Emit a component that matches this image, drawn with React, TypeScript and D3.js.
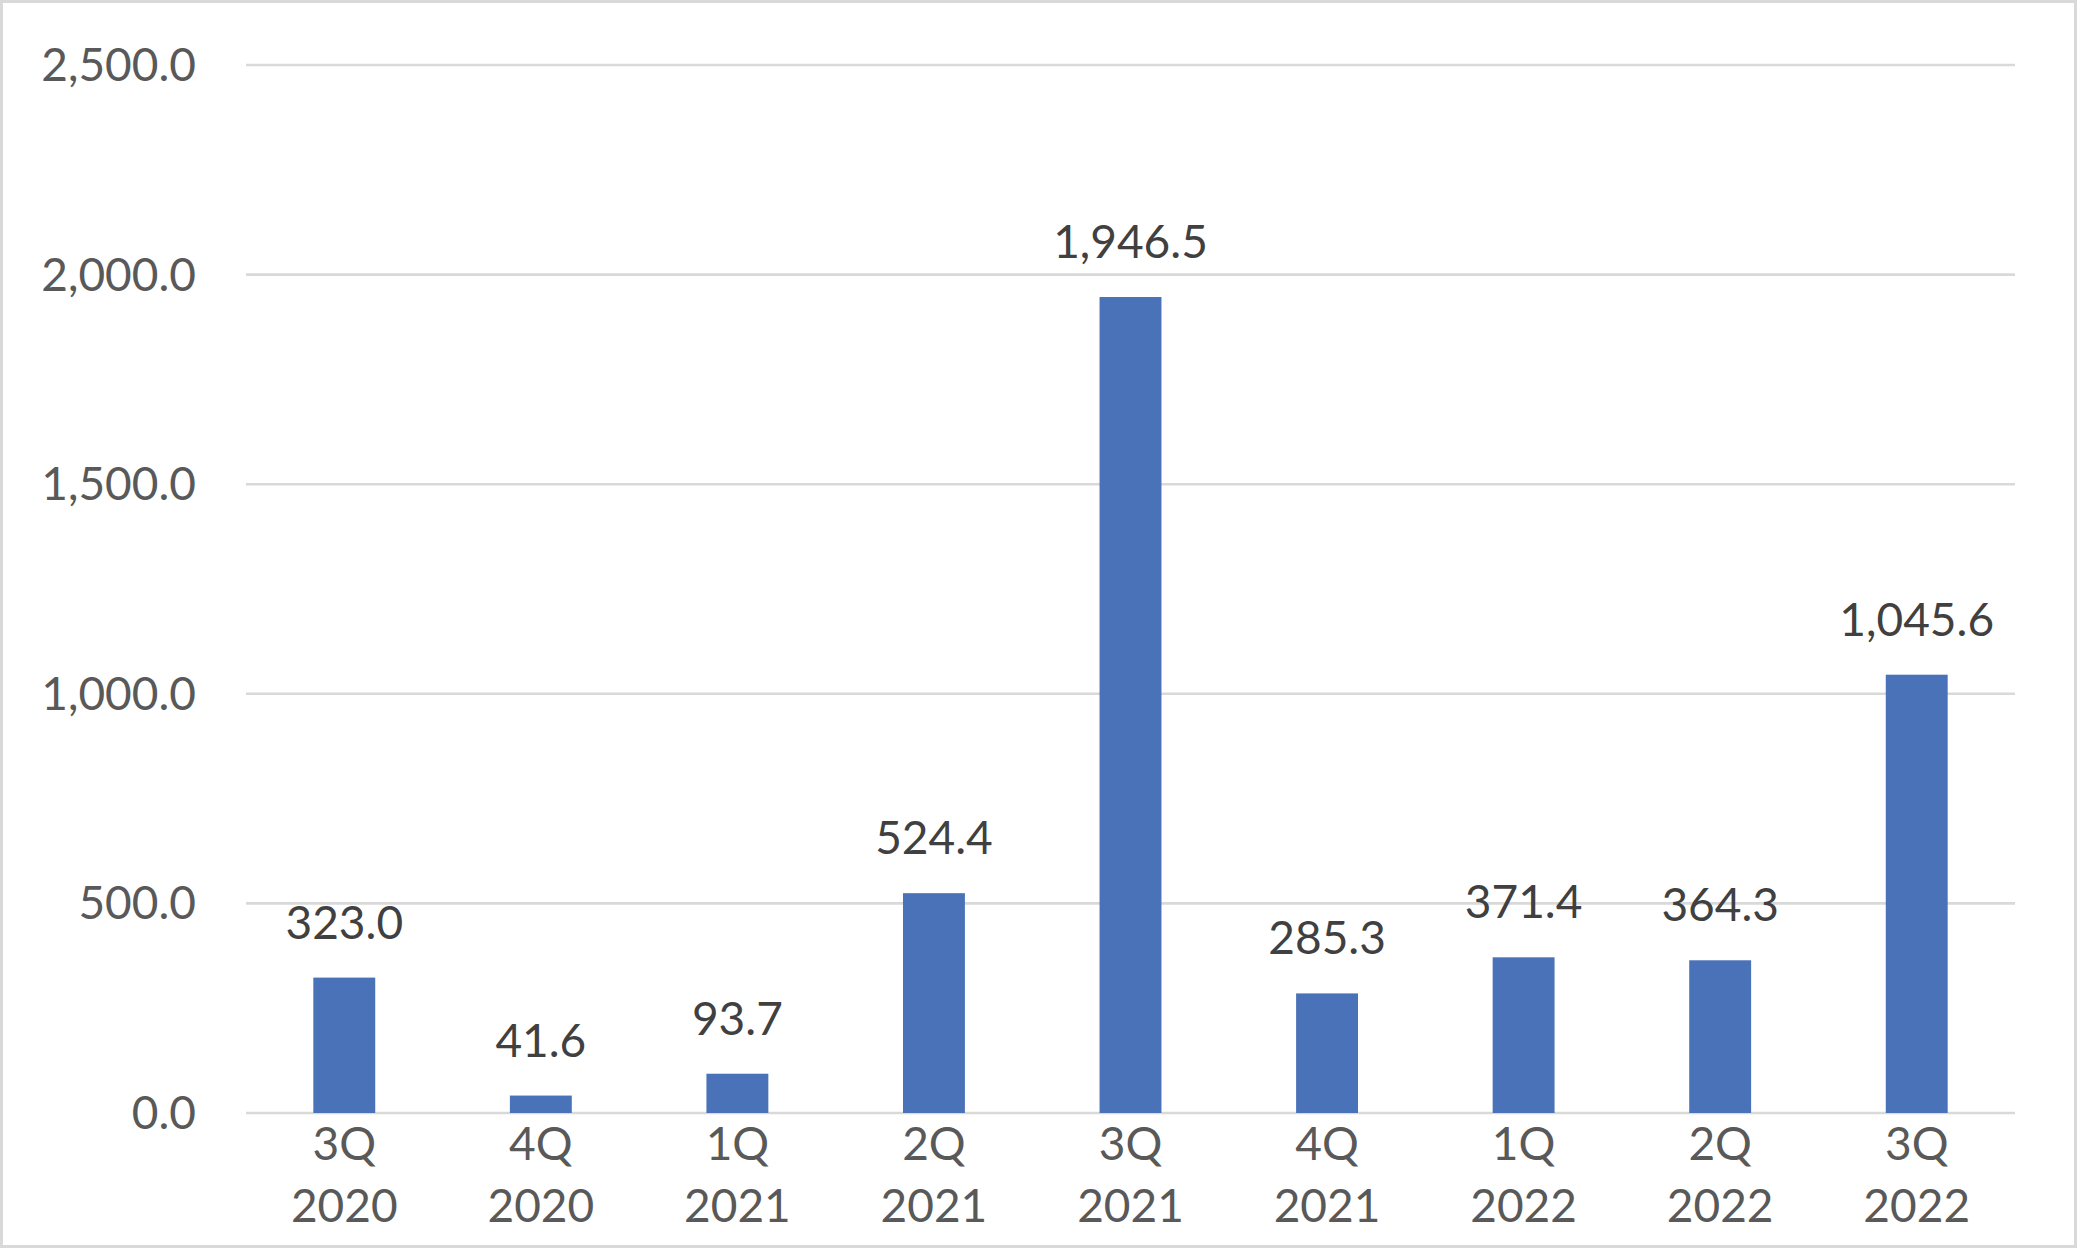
import React from "react";
import * as d3 from "d3";

const quarters = ["3Q", "4Q", "1Q", "2Q", "3Q", "4Q", "1Q", "2Q", "3Q"];
const years = ["2020", "2020", "2021", "2021", "2021", "2021", "2022", "2022", "2022"];
const values = [323.0, 41.6, 93.7, 524.4, 1946.5, 285.3, 371.4, 364.3, 1045.6];
const yTicks = [0, 500, 1000, 1500, 2000, 2500];

const W = 2080;
const H = 1249;
const left = 246;
const right = 2015;
const top = 65;
const bottom = 1113;
const FONT = "Lato, 'Open Sans', sans-serif";

export default function App() {
  React.useEffect(() => {
    document.body.style.margin = "0";
  }, []);
  const ids = values.map((_, i) => String(i));
  const x = d3.scaleBand<string>().domain(ids).range([left, right]).paddingInner(0.685).paddingOuter(0.3425);
  const y = d3.scaleLinear().domain([0, 2500]).range([bottom, top]);
  const fmt = d3.format(",.1f");
  const bw = x.bandwidth();

  return (
    <svg width={W} height={H} style={{ position: "absolute", left: 0, top: 0, background: "#fff" }}>
      <rect x={1.5} y={1.5} width={2074} height={1245} fill="#fff" stroke="#d9d9d9" strokeWidth={3} />
      {yTicks.map((t) => (
        <g key={t}>
          <line x1={left} x2={right} y1={y(t)} y2={y(t)} stroke="#d9d9d9" strokeWidth={2.6} />
          <text x={196} y={y(t) + 16} textAnchor="end" fontFamily={FONT} fontSize={46} fill="#595959">
            {fmt(t)}
          </text>
        </g>
      ))}
      {values.map((v, i) => {
        const cx = (x(String(i)) as number) + bw / 2;
        return (
          <g key={i}>
            <rect x={x(String(i))} y={y(v)} width={bw} height={y(0) - y(v)} fill="#4a72b8" />
            <text x={cx} y={y(v) - 39} textAnchor="middle" fontFamily={FONT} fontSize={46} fill="#404040">
              {fmt(v)}
            </text>
            <text x={cx} y={1160} textAnchor="middle" fontFamily={FONT} fontSize={46} fill="#595959">
              {quarters[i]}
            </text>
            <text x={cx} y={1222} textAnchor="middle" fontFamily={FONT} fontSize={46} fill="#595959">
              {years[i]}
            </text>
          </g>
        );
      })}
    </svg>
  );
}
